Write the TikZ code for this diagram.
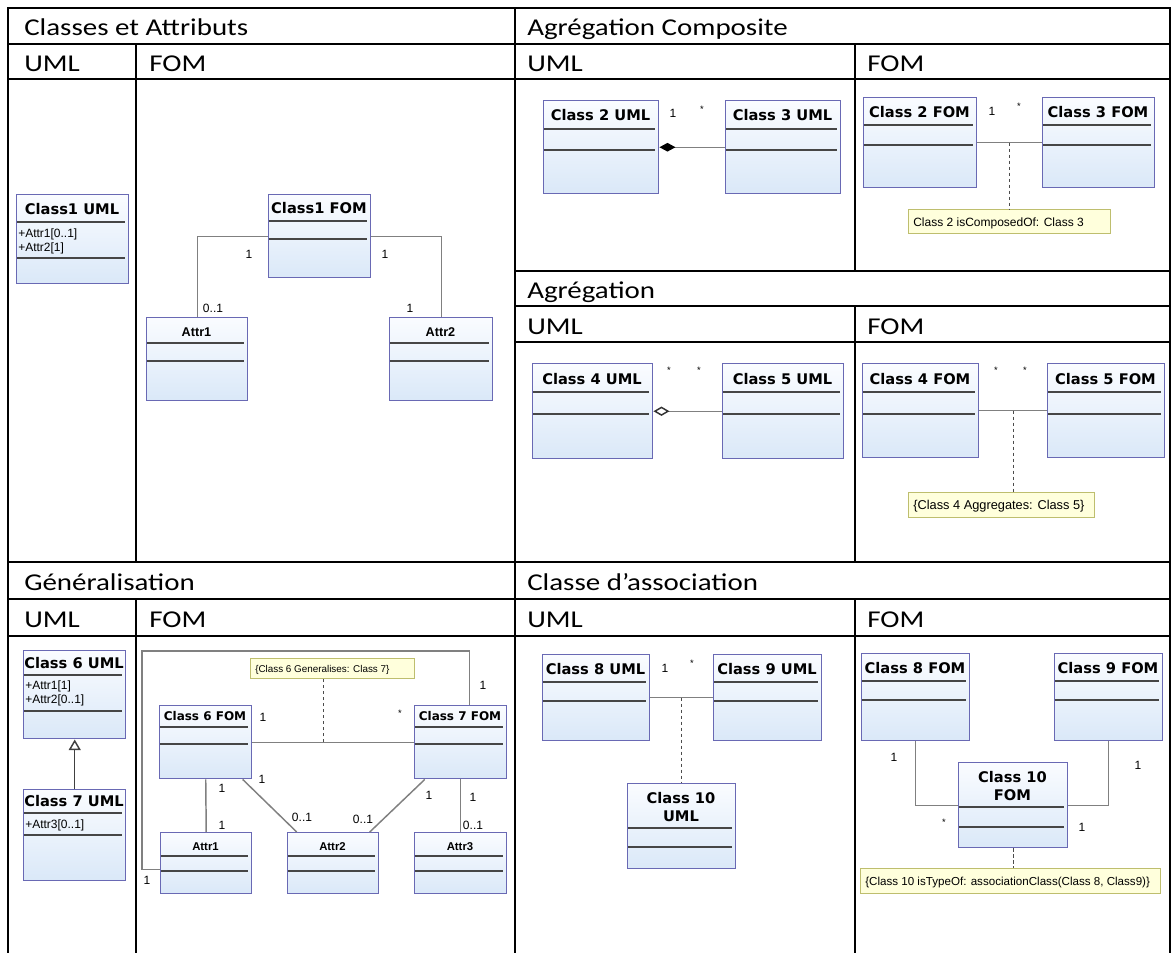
\documentclass[tikz,border=0pt]{standalone}
\usepackage{fontspec}
\setmainfont{Carlito}
\newfontfamily\tabfont[FakeStretch=1.2]{Carlito}
\newfontfamily\clsfont{DejaVu Sans}
\newfontfamily\lblfont{Liberation Sans}
\usetikzlibrary{arrows.meta,calc}
\definecolor{clsborder}{RGB}{105,105,180}
\definecolor{clstop}{RGB}{250,252,255}
\definecolor{clsbot}{RGB}{218,232,248}
\definecolor{compline}{RGB}{70,70,70}
\definecolor{connc}{RGB}{128,128,128}
\definecolor{notefill}{RGB}{255,255,220}
\definecolor{noteborder}{RGB}{190,190,110}
\tikzset{
 tline/.style={line width=1.5pt, black},
 hdr/.style={font=\tabfont\fontsize{18.1}{21}\selectfont, anchor=base west, inner sep=0},
 clsrect/.style={draw=clsborder, line width=1.1pt, top color=clstop, bottom color=clsbot, rectangle, inner sep=0, anchor=north west},
 cmp/.style={draw=compline, line width=1.4pt},
 ttl/.style={font=\clsfont\bfseries\fontsize{11}{13}\selectfont, anchor=base, inner sep=0},
 ttlsm/.style={font=\clsfont\bfseries\fontsize{9}{11}\selectfont, anchor=base, inner sep=0},
 ttlat/.style={font=\lblfont\bfseries\fontsize{9.5}{11}\selectfont, anchor=base, inner sep=0},
 ttlatsm/.style={font=\lblfont\bfseries\fontsize{8.5}{10}\selectfont, anchor=base, inner sep=0},
 attr/.style={font=\lblfont\fontsize{9}{11}\selectfont, anchor=base west, inner sep=0},
 conn/.style={draw=connc, line width=1.1pt},
 dots/.style={draw=black!70, line width=0.9pt, dash pattern=on 2.5pt off 2pt},
 mult/.style={font=\lblfont\fontsize{9}{11}\selectfont, inner sep=0},
 star/.style={font=\lblfont\fontsize{7}{8}\selectfont, inner sep=0},
 notebox/.style={draw=noteborder, fill=notefill, line width=0.9pt, rectangle, inner sep=0, anchor=north west},
 notetxt/.style={font=\lblfont\fontsize{9}{11}\selectfont, anchor=base west, inner sep=0},
}
% name, x1, y1, x2, y2, line1, line2
\newcommand\umlcls[7]{%
 \pgfmathsetmacro\cw{(#4-#2)*0.75}\pgfmathsetmacro\ch{(#5-#3)*0.75}%
 \node[clsrect, minimum width=\cw pt, minimum height=\ch pt] (#1) at (#2,#3) {};%
 \draw[cmp] ({#2+1},#6) -- ({#4-3},#6);%
 \draw[cmp] ({#2+1},#7) -- ({#4-3},#7);%
}
\newcommand\notebx[5]{%
 \pgfmathsetmacro\cw{(#4-#2)*0.75}\pgfmathsetmacro\ch{(#5-#3)*0.75}%
 \node[notebox, minimum width=\cw pt, minimum height=\ch pt] (#1) at (#2,#3) {};%
}
\begin{document}
\begin{tikzpicture}[x=0.75pt,y=-0.75pt]
\useasboundingbox (0,0) rectangle (1175,953);
% ---------------- table ----------------
\draw[tline] (8,953) -- (8,8) -- (1170,8) -- (1170,953);
\draw[tline] (515,8) -- (515,953);
\foreach \yy in {44,79,562,599,636} \draw[tline] (8,\yy) -- (1170,\yy);
\foreach \yy in {271,306,342} \draw[tline] (515,\yy) -- (1170,\yy);
\draw[tline] (136,44) -- (136,562);
\draw[tline] (136,599) -- (136,953);
\draw[tline] (855,44) -- (855,271);
\draw[tline] (855,306) -- (855,562);
\draw[tline] (855,599) -- (855,953);
\node[hdr] (h1) at (24,36) {Classes et Attributs};
\node[hdr] (h1u) at (24,71) {UML};
\node[hdr] (h1f) at (149,71) {FOM};
\node[hdr] (h2) at (527,36) {Agrégation Composite};
\node[hdr] (h2u) at (527,71) {UML};
\node[hdr] (h2f) at (867,71) {FOM};
\node[hdr] (h3) at (527,298) {Agrégation};
\node[hdr] (h3u) at (527,334) {UML};
\node[hdr] (h3f) at (867,334) {FOM};
\node[hdr] (h4) at (24,590) {Généralisation};
\node[hdr] (h4u) at (24,627) {UML};
\node[hdr] (h4f) at (149,627) {FOM};
\node[hdr] (h5) at (527,590) {Classe d’association};
\node[hdr] (h5u) at (527,627) {UML};
\node[hdr] (h5f) at (867,627) {FOM};
% ---------------- Classes et Attributs ----------------
\umlcls{c1u}{16}{194}{128}{283}{222}{258}
\node[ttl] (c1ut) at (72,214) {Class1 UML};
\node[attr] (c1ua) at (18,237) {+Attr1[0..1]};
\node[attr] (c1ub) at (18,251) {+Attr2[1]};
\umlcls{c1f}{268}{194}{370}{277}{221}{239}
\node[ttl] (c1ft) at (319,213) {Class1 FOM};
\umlcls{a1}{146}{317}{247}{400}{343}{361}
\node[ttlat] (a1t) at (196.5,336) {Attr1};
\umlcls{a2}{389}{317}{492}{400}{343}{361}
\node[ttlat] (a2t) at (440.5,336) {Attr2};
\draw[conn] (c1f.west) -| (a1.north);
\draw[conn] (c1f.east) -| (a2.north);
\node[mult] (m1a) at (249,254) {1};
\node[mult] (m1b) at (385,254) {1};
\node[mult] (m1c) at (213,308) {0..1};
\node[mult] (m1d) at (410,308) {1};
% ---------------- Agregation composite ----------------
\umlcls{c2u}{543}{100}{658}{193}{129}{150}
\node[ttl] (c2ut) at (600.5,120) {Class 2 UML};
\umlcls{c3u}{725}{100}{840}{193}{129}{150}
\node[ttl] (c3ut) at (782.5,120) {Class 3 UML};
\draw[conn, {Diamond[length=12pt,width=6.5pt,fill=black,color=black]}-] (c2u.east) -- (c3u.west);
\node[mult] (m2a) at (673,113) {1};
\node[star] (m2b) at (702,109) {*};
\umlcls{c2f}{863}{97}{976}{187}{125}{145}
\node[ttl] (c2ft) at (919.5,117) {Class 2 FOM};
\umlcls{c3f}{1042}{97}{1154}{187}{125}{145}
\node[ttl] (c3ft) at (1098,117) {Class 3 FOM};
\draw[conn] (c2f.east) -- (c3f.west);
\coordinate (mid2) at ($(c2f.east)!0.5!(c3f.west)$);
\notebx{n1}{908}{209}{1110}{233}
\node[notetxt] (n1t) at (913,226) {Class 2 isComposedOf: Class 3};
\draw[dots] (mid2) -- (mid2 |- n1.north);
\node[mult] (m2c) at (992,111) {1};
\node[star] (m2d) at (1019,106) {*};
% ---------------- Agregation ----------------
\umlcls{c4u}{532}{363}{652}{458}{392}{414}
\node[ttl] (c4ut) at (592,384) {Class 4 UML};
\umlcls{c5u}{722}{363}{843}{458}{392}{414}
\node[ttl] (c5ut) at (782.5,384) {Class 5 UML};
\draw[conn, {Diamond[open,length=12pt,width=7pt,color=black!80,fill=white]}-] (c4u.east) -- (c5u.west);
\node[star] (m3a) at (669,370) {*};
\node[star] (m3b) at (699,370) {*};
\umlcls{c4f}{862}{363}{978}{457}{392}{414}
\node[ttl] (c4ft) at (920,384) {Class 4 FOM};
\umlcls{c5f}{1047}{363}{1164}{457}{392}{414}
\node[ttl] (c5ft) at (1105.5,384) {Class 5 FOM};
\draw[conn] (c4f.east) -- (c5f.west);
\coordinate (mid3) at ($(c4f.east)!0.5!(c5f.west)$);
\notebx{n2}{908}{492}{1094}{517}
\node[notetxt, font=\lblfont\fontsize{9.6}{11}\selectfont] (n2t) at (913,509) {\{Class 4 Aggregates: Class 5\}};
\draw[dots] (mid3) -- (mid3 |- n2.north);
\node[star] (m3c) at (996,370) {*};
\node[star] (m3d) at (1025,370) {*};
% ---------------- Generalisation ----------------
\umlcls{c6u}{23}{650}{125}{738}{675}{711}
\node[ttl] (c6ut) at (74,668) {Class 6 UML};
\node[attr] (c6ua) at (25,689) {+Attr1[1]};
\node[attr] (c6ub) at (25,703) {+Attr2[0..1]};
\umlcls{c7u}{23}{789}{125}{880}{813}{835}
\node[ttl] (c7ut) at (74,806) {Class 7 UML};
\node[attr] (c7ua) at (25,828) {+Attr3[0..1]};
\draw[draw=black!75, line width=1.1pt, -{Triangle[open,length=8pt,width=9pt,fill=white]}] (c7u.north) -- (c6u.south);
\umlcls{c6f}{159}{705}{251}{778}{727}{744}
\node[ttlsm] (c6ft) at (205,720) {Class 6 FOM};
\umlcls{c7f}{414}{705}{506}{778}{727}{744}
\node[ttlsm] (c7ft) at (460,720) {Class 7 FOM};
\umlcls{g1}{160}{832}{251}{893}{856}{871}
\node[ttlatsm] (g1t) at (205.5,850) {Attr1};
\umlcls{g2}{287}{832}{378}{893}{856}{871}
\node[ttlatsm] (g2t) at (332.5,850) {Attr2};
\umlcls{g3}{414}{832}{506}{893}{856}{871}
\node[ttlatsm] (g3t) at (460,850) {Attr3};
\draw[conn] (c6f.east) -- (c7f.west);
\coordinate (gm) at ($(c6f.east)!0.44!(c7f.west)$);
\notebx{n3}{250}{658}{414}{678}
\node[notetxt, font=\lblfont\fontsize{7.4}{9}\selectfont] (n3t) at (255,672) {\{Class 6 Generalises: Class 7\}};
\draw[dots] (gm) -- (gm |- n3.south);
\draw[conn] (c6f.south) -- (g1.north);
\draw[conn] (c7f.south) -- (g3.north);
\draw[conn] ($(c6f.south)+(37,0)$) -- ($(g2.north)+(-36.5,0)$);
\draw[conn] ($(c7f.south)+(-36,0)$) -- ($(g2.north)+(36.5,0)$);
\coordinate (lpA) at (142,651);
\draw[conn] ([xshift=6.75pt]c7f.north) |- (lpA) |- ([yshift=-4.5pt]g1.west);
\node[mult] (m4a) at (483,685) {1};
\node[mult] (m4b) at (147,880) {1};
\node[mult] (m4c) at (263,717) {1};
\node[star] (m4d) at (400,713) {*};
\node[mult] (m4e) at (222,788) {1};
\node[mult] (m4f) at (222,825) {1};
\node[mult] (m4g) at (262,779) {1};
\node[mult] (m4h) at (302,817) {0..1};
\node[mult] (m4i) at (363,819) {0..1};
\node[mult] (m4j) at (429,795) {1};
\node[mult] (m4k) at (473,797) {1};
\node[mult] (m4l) at (473,825) {0..1};
% ---------------- Classe d'association ----------------
\umlcls{c8u}{542}{654}{649}{740}{682}{701}
\node[ttl] (c8ut) at (595.5,674) {Class 8 UML};
\umlcls{c9u}{713}{654}{821}{740}{682}{701}
\node[ttl] (c9ut) at (767,674) {Class 9 UML};
\draw[conn] (c8u.east) -- (c9u.west);
\coordinate (mid5) at ($(c8u.east)!0.5!(c9u.west)$);
\umlcls{c10u}{627}{783}{735}{868}{828}{847}
\node[ttl] (c10ua) at (681,803) {Class 10};
\node[ttl] (c10ub) at (681,821) {UML};
\draw[dots] (mid5) -- (c10u.north);
\node[mult] (m5a) at (665,668) {1};
\node[star] (m5b) at (692,663) {*};
\umlcls{c8f}{861}{653}{969}{740}{681}{700}
\node[ttl] (c8ft) at (915,673) {Class 8 FOM};
\umlcls{c9f}{1054}{653}{1162}{740}{681}{700}
\node[ttl] (c9ft) at (1108,673) {Class 9 FOM};
\umlcls{c10f}{958}{762}{1067}{847}{807}{827}
\node[ttl] (c10fa) at (1012.5,782) {Class 10};
\node[ttl] (c10fb) at (1012.5,800) {FOM};
\draw[conn] (c8f.south) |- (c10f.west);
\draw[conn] (c9f.south) |- (c10f.east);
\notebx{n4}{860}{868}{1160}{893}
\node[notetxt, font=\lblfont\fontsize{8.7}{10}\selectfont] (n4t) at (865,885) {\{Class 10 isTypeOf: associationClass(Class 8, Class9)\}};
\draw[dots] (c10f.south) -- (c10f.south |- n4.north);
\node[mult] (m5c) at (894,757) {1};
\node[mult] (m5d) at (1138,765) {1};
\node[star] (m5e) at (944,822) {*};
\node[mult] (m5f) at (1082,827) {1};
\end{tikzpicture}
\end{document}
